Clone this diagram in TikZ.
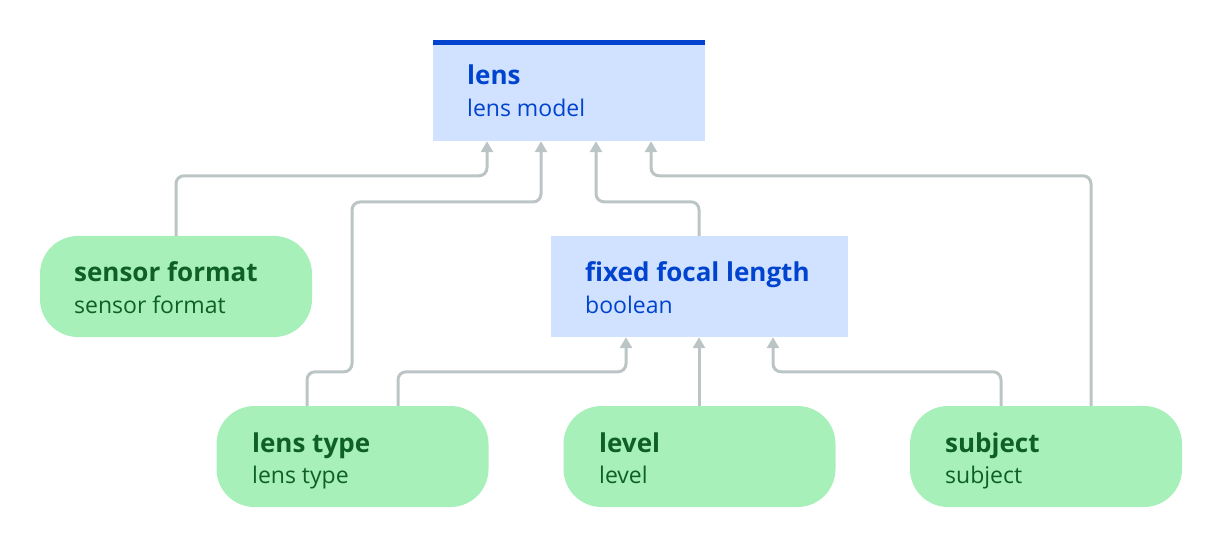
\documentclass[tikz,border=0pt]{standalone}
\usepackage{fontspec}
\setmainfont{Open Sans}
\usetikzlibrary{arrows.meta}
\definecolor{bluefill}{HTML}{D0E2FF}
\definecolor{bluetext}{HTML}{0043CE}
\definecolor{greenfill}{HTML}{A7F0BA}
\definecolor{greentext}{HTML}{0E6027}
\definecolor{edgegray}{HTML}{BCC5C5}
\tikzset{
  rectbox/.style={fill=bluefill, draw=none, minimum height=101pt, inner sep=0pt},
  pillbox/.style={fill=greenfill, draw=none, rounded corners=38pt, minimum width=272pt, minimum height=101pt, inner sep=0pt},
  titletext/.style={anchor=base west, inner sep=0pt, font=\fontsize{26}{28}\selectfont\bfseries},
  subtext/.style={anchor=base west, inner sep=0pt, font=\fontsize{23}{26}\selectfont},
  edge/.style={draw=edgegray, line width=3pt, rounded corners=8pt, -{Triangle[width=12pt,length=11pt]}},
}
\begin{document}
\begin{tikzpicture}[x=1pt,y=-1pt]
\useasboundingbox (0,0) rectangle (1224,548);
% boxes
\node[rectbox, minimum width=272pt] (lens) at (569,90.5) {};
\draw[bluetext, line width=5pt] ([yshift=-2.5pt]lens.north west) -- ([yshift=-2.5pt]lens.north east);
\node[rectbox, minimum width=297pt] (ffl) at (699,286.5) {};
\node[pillbox] (sf) at (176,286.5) {};
\node[pillbox] (lt) at (352.5,456.5) {};
\node[pillbox] (lv) at (699.5,456.5) {};
\node[pillbox] (sub) at (1046,456.5) {};
% texts
\node[titletext, text=bluetext] (lensT) at (467,85) {lens};
\node[subtext, text=bluetext] (lensS) at (467,117) {lens model};
\node[titletext, text=bluetext] (fflT) at (585,282) {fixed focal length};
\node[subtext, text=bluetext] (fflS) at (585,313) {boolean};
\node[titletext, text=greentext] (sfT) at (74,282) {sensor format};
\node[subtext, text=greentext] (sfS) at (74,313) {sensor format};
\node[titletext, text=greentext] (ltT) at (252,452) {lens type};
\node[subtext, text=greentext] (ltS) at (252,483) {lens type};
\node[titletext, text=greentext] (lvT) at (599,452) {level};
\node[subtext, text=greentext] (lvS) at (599,483) {level};
\node[titletext, text=greentext] (subT) at (945,452) {subject};
\node[subtext, text=greentext] (subS) at (945,483) {subject};
% edges
\draw[edge] (sf.north) -- ++(0,-60) -| ([xshift=-82pt]lens.south);
\draw[edge] ([xshift=-45.5pt]lt.north) -- ++(0,-34) -| (352,202) -| ([xshift=-28pt]lens.south);
\draw[edge] (ffl.north) -- ++(0,-34) -| ([xshift=27pt]lens.south);
\draw[edge] ([xshift=45pt]sub.north) -- ++(0,-230) -| ([xshift=82pt]lens.south);
\draw[edge] ([xshift=45.5pt]lt.north) -- ++(0,-34) -| ([xshift=-73pt]ffl.south);
\draw[edge] (lv.north -| ffl.south) -- (ffl.south);
\draw[edge] ([xshift=-45pt]sub.north) -- ++(0,-34) -| ([xshift=74pt]ffl.south);
\end{tikzpicture}
\end{document}
